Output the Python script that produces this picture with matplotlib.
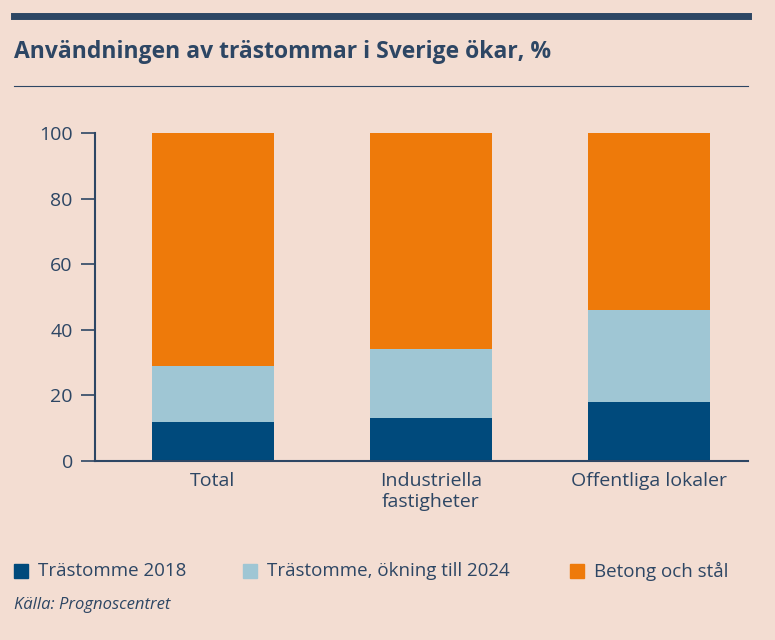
import matplotlib
matplotlib.use("Agg")
import matplotlib.pyplot as plt
from matplotlib.patches import Rectangle
from matplotlib.lines import Line2D

categories = ["Total", "Industriella\nfastigheter", "Offentliga lokaler"]
tra2018 = [12, 13, 18]
okning = [17, 21, 28]
betong = [71, 66, 54]
series_labels = ["Trästomme 2018", "Trästomme, ökning till 2024", "Betong och stål"]
yticks = [0, 20, 40, 60, 80, 100]

bg = "#f3ddd2"
c1, c2, c3 = "#004a7c", "#9fc6d4", "#ee7a0a"
tc = "#2d4664"
plt.rcParams['font.family'] = ['Open Sans', 'DejaVu Sans']

fig = plt.figure(figsize=(7.75, 6.4), dpi=100, facecolor=bg)
ax = fig.add_axes([95/775, 1-461/640, (748-95)/775, (461-133)/640])
ax.set_facecolor(bg)
x = list(range(len(categories)))
w = 0.56
ax.bar(x, tra2018, w, color=c1)
ax.bar(x, okning, w, bottom=tra2018, color=c2)
ax.bar(x, betong, w, bottom=[a+b for a, b in zip(tra2018, okning)], color=c3)
ax.set_xlim(-0.54, 2.455)
ax.set_ylim(0, 100)
ax.set_yticks(yticks)
ax.set_xticks(x)
ax.set_xticklabels(categories)
for s in ["top", "right"]:
    ax.spines[s].set_visible(False)
for s in ["left", "bottom"]:
    ax.spines[s].set_color(tc)
    ax.spines[s].set_linewidth(1.5)
ax.tick_params(axis='y', colors=tc, labelsize=14, length=10, width=1.2, pad=6, direction='out')
ax.tick_params(axis='x', colors=tc, labelsize=14, length=0, pad=8)

fig.add_artist(Line2D([14/775, 748/775], [1-16/640]*2, color=tc, lw=5))
fig.add_artist(Line2D([14/775, 748/775], [1-86/640]*2, color=tc, lw=0.8))
fig.text(14/775, 1-52/640, "Användningen av trästommar i Sverige ökar, %", color=tc,
         fontsize=16.5, fontweight='bold', va='center')

ly = 1-571/640
items = [(14, c1, series_labels[0]), (243, c2, series_labels[1]), (570, c3, series_labels[2])]
for px, c, lab in items:
    fig.add_artist(Rectangle((px/775, ly-7/640), 14/775, 14/640, color=c, transform=fig.transFigure))
    fig.text((px+24)/775, ly, lab, color=tc, fontsize=13.5, va='center')
fig.text(14/775, 1-605/640, "Källa: Prognoscentret", color=tc, fontsize=12, style='italic', va='center')

fig.savefig("out.png", dpi=100, facecolor=bg)
